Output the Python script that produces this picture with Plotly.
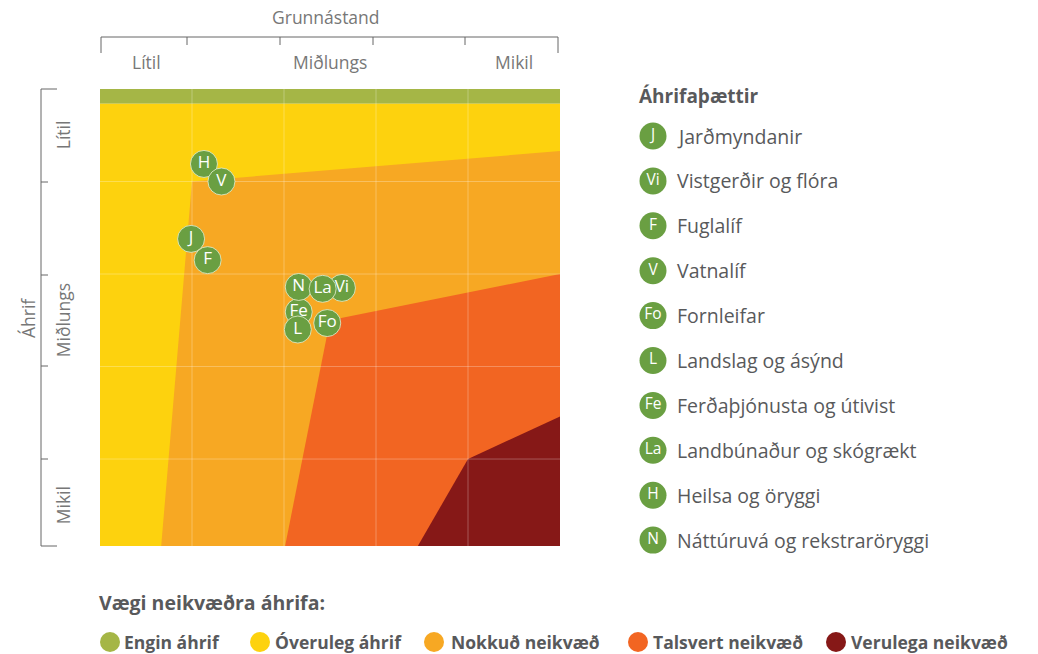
import plotly.graph_objects as go

W, H = 1038, 654

# ---- data ----
codes = ["J", "Vi", "F", "V", "Fo", "L", "Fe", "La", "H", "N"]
names = ["Jarðmyndanir", "Vistgerðir og flóra", "Fuglalíf", "Vatnalíf", "Fornleifar",
         "Landslag og ásýnd", "Ferðaþjónusta og útivist", "Landbúnaður og skógrækt",
         "Heilsa og öryggi", "Náttúruvá og rekstraröryggi"]
grunnastand = [0.99, 2.63, 1.17, 1.32, 2.47, 2.15, 2.16, 2.42, 1.13, 2.16]
ahrif = [1.62, 2.15, 1.85, 1.00, 2.53, 2.60, 2.41, 2.16, 0.81, 2.14]
draw_order = ["Fe", "N", "Vi", "La", "L", "Fo", "H", "V", "J", "F"]

level_labels = ["Lítil", "Miðlungs", "Mikil"]
level_pos = [0.5, 2.5, 4.5]

severity_names = ["Engin áhrif", "Óveruleg áhrif", "Nokkuð neikvæð", "Talsvert neikvæð", "Verulega neikvæð"]
severity_colors = ["#a5b646", "#fdd20e", "#f7a823", "#f26522", "#861817"]
region_x = [
    [0, 5, 5, 0],
    [0, 5, 5, 0],
    [1.0, 5, 5, 0.66],
    [2.5, 5, 5, 2.0],
    [4.0, 5, 5, 3.42],
]
region_y = [
    [0, 0, 0.16, 0.16],
    [0.16, 0.16, 5, 5],
    [1.0, 0.67, 5, 5],
    [2.5, 2.0, 5, 5],
    [4.0, 3.54, 5, 5],
]

# ---- styles ----
FONT = "Open Sans"
TXT = "#58595b"
AX = "#777777"
PT = "#6a9f42"

fig = go.Figure()

# regions
for rx, ry, c in zip(region_x, region_y, severity_colors):
    fig.add_trace(go.Scatter(x=rx + [rx[0]], y=ry + [ry[0]], fill="toself", fillcolor=c,
                             mode="lines", line=dict(width=0, color=c), hoverinfo="skip",
                             showlegend=False, xaxis="x", yaxis="y"))

# grid lines on top of regions
gx, gy = [], []
for v in range(1, 5):
    gx += [v, v, None, 0, 5, None]
    gy += [0, 5, None, v, v, None]
fig.add_trace(go.Scatter(x=gx, y=gy, mode="lines", line=dict(color="rgba(255,255,255,0.28)", width=1),
                         hoverinfo="skip", showlegend=False, xaxis="x", yaxis="y"))

# points
for code in draw_order:
    i = codes.index(code)
    fig.add_trace(go.Scatter(x=[grunnastand[i]], y=[ahrif[i]], mode="markers+text", text=[code],
                             textposition="middle center",
                             textfont=dict(family=FONT, size=17, color="white"),
                             marker=dict(size=27, color=PT, line=dict(color="rgba(230,240,210,0.8)", width=1)),
                             name=names[i], showlegend=False, xaxis="x", yaxis="y",
                             cliponaxis=False))

# right legend (pixel-space overlay axes)
leg_y = [136 + 44.9 * k for k in range(len(codes))]
fig.add_trace(go.Scatter(x=[653] * len(codes), y=leg_y, mode="markers+text", text=codes,
                         textposition="middle center",
                         textfont=dict(family=FONT, size=15.5, color="white"),
                         marker=dict(size=27, color=PT), hoverinfo="skip", showlegend=False,
                         xaxis="x2", yaxis="y2", cliponaxis=False))
# bottom legend circles
bot_cx = [110, 260, 434, 638, 836]
bot_tx = [122, 273, 449, 651, 849]
fig.add_trace(go.Scatter(x=bot_cx, y=[642] * 5, mode="markers",
                         marker=dict(size=20, color=severity_colors), hoverinfo="skip",
                         showlegend=False, xaxis="x2", yaxis="y2", cliponaxis=False))

ann = []
def A(x, y, t, size=17, color=AX, bold=False, xanchor="center", angle=0):
    ann.append(dict(x=x, y=y, xref="x2", yref="y2", text=("<b>%s</b>" % t) if bold else t,
                    showarrow=False, xanchor=xanchor, yanchor="middle", textangle=angle,
                    font=dict(family=FONT, size=size, color=color)))

A(637, 96, "Áhrifaþættir", size=19, color=TXT, bold=True, xanchor="left")
for y, n in zip(leg_y, names):
    A(675, y, n, size=19.5, color=TXT, xanchor="left")

A(97, 602, "Vægi neikvæðra áhrifa:", size=19.5, color=TXT, bold=True, xanchor="left")
for x, n in zip(bot_tx, severity_names):
    A(x, 642, n, size=17.5, color=TXT, bold=True, xanchor="left")

# axis titles and labels
A(326, 17, "Grunnástand", size=17.5)
for p, lab in zip(level_pos, level_labels):
    A(100 + 92 * p, 62, lab, size=17.5)
    A(63, 89 + 92.5 * p, lab, size=17.5, angle=-90)
A(28, 318, "Áhrif", size=17.5, angle=-90)

# axis line shapes (pixel space)
shapes = []
def L(x0, y0, x1, y1):
    shapes.append(dict(type="line", xref="x2", yref="y2", x0=x0, y0=y0, x1=x1, y1=y1,
                       line=dict(color="#666666", width=1)))
top_ticks = [101, 187, 280, 373, 465, 558]
L(top_ticks[0], 37, top_ticks[-1], 37)
for k, t in enumerate(top_ticks):
    L(t, 37, t, 53 if k in (0, len(top_ticks) - 1) else 45)
left_ticks = [89, 182, 275, 366, 459, 546]
L(41, left_ticks[0], 41, left_ticks[-1])
for k, t in enumerate(left_ticks):
    L(41, t, 57 if k in (0, len(left_ticks) - 1) else 48, t)

fig.update_layout(
    width=W, height=H, margin=dict(l=0, r=0, t=0, b=0),
    paper_bgcolor="white", plot_bgcolor="rgba(0,0,0,0)",
    xaxis=dict(domain=[100 / W, 560 / W], range=[0, 5], visible=False, fixedrange=True),
    yaxis=dict(domain=[1 - 546 / H, 1 - 89 / H], range=[4.94, 0], visible=False, fixedrange=True),
    xaxis2=dict(domain=[0, 1], range=[0, W], visible=False, anchor="y2", fixedrange=True),
    yaxis2=dict(domain=[0, 1], range=[H, 0], visible=False, anchor="x2", fixedrange=True),
    annotations=ann, shapes=shapes, showlegend=False,
)

fig.write_html("out.html", config={"displayModeBar": False},
               post_script="document.body.style.margin='0';document.body.style.overflow='hidden';")
